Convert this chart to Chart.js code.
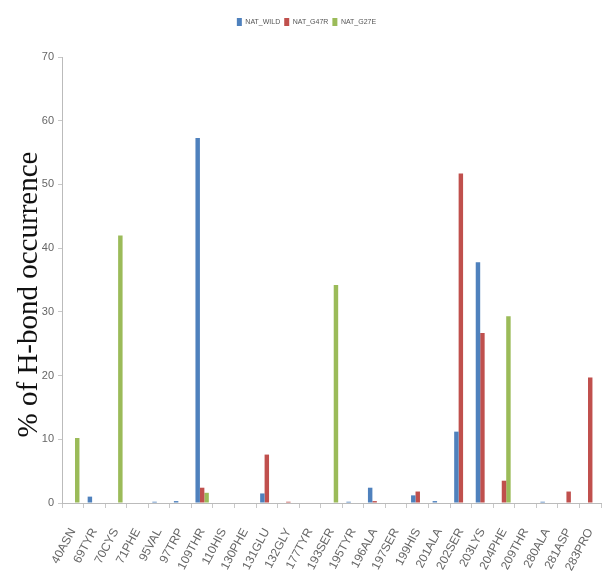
<!DOCTYPE html>
<html><head><meta charset="utf-8">
<script src="https://cdn.jsdelivr.net/npm/chart.js@4.4.0/dist/chart.umd.min.js"></script>
<style>html,body{margin:0;padding:0;background:#fff}#wrap{width:605px;height:577px}</style>
</head><body><div id="wrap"><canvas id="c" width="605" height="577"></canvas></div>
<script>
const categories = ["40ASN","69TYR","70CYS","71PHE","95VAL","97TRP","109THR","110HIS","130PHE","131GLU","132GLY","177TYR","193SER","195TYR","196ALA","197SER","199HIS","201ALA","202SER","203LYS","204PHE","209THR","280ALA","281ASP","283PRO"];
const natWild = [0,1.0,0,0,0.2,0.3,57.3,0,0,1.5,0,0,0,0.2,2.4,0,1.2,0.3,11.2,37.8,0,0,0.2,0,0];
const natG47R = [0,0,0,0,0,0,2.4,0,0,7.6,0.2,0,0,0,0.3,0,1.8,0,51.7,26.7,3.5,0,0,1.8,19.7];
const natG27E = [10.2,0,42.0,0,0,0,1.6,0,0,0,0,0,34.2,0,0,0,0,0,0,0,29.3,0,0,0,0];
const seriesNames = ["NAT_WILD","NAT_G47R","NAT_G27E"];
const yTicks = [0,10,20,30,40,50,60,70];

const legendGap = {
  id:'legendGap',
  beforeInit(chart){
    const lg = chart.legend;
    const orig = lg.fit;
    lg.fit = function(){ orig.call(this); this.height += 21; };
  }
};
const tickFont = {family:"'Liberation Sans Narrow','Liberation Sans',sans-serif", size:12};
new Chart(document.getElementById('c'), {
  type:'bar',
  data:{labels:categories, datasets:[
    {label:seriesNames[0], data:natWild, backgroundColor:'#4F81BD'},
    {label:seriesNames[1], data:natG47R, backgroundColor:'#C0504D'},
    {label:seriesNames[2], data:natG27E, backgroundColor:'#9BBB59'}
  ]},
  plugins:[legendGap],
  options:{
    responsive:false, animation:false,
    layout:{padding:{left:12,right:4,top:14,bottom:0}},
    categoryPercentage:0.62, barPercentage:1.0,
    plugins:{
      legend:{position:'top', labels:{boxWidth:5, boxHeight:8, padding:4, color:'#555', font:{family:"'Liberation Sans Narrow','Liberation Sans',sans-serif", size:7}}},
      tooltip:{enabled:false}
    },
    scales:{
      x:{
        grid:{display:true, drawOnChartArea:false, color:'#c8c8c8', tickLength:5},
        border:{color:'#bbbbbb'},
        ticks:{color:'#666', font:tickFont, maxRotation:62, minRotation:62, autoSkip:false, padding:18},
        afterFit:(s)=>{s.height=74; s.paddingRight=0; s.paddingLeft=0;}
      },
      y:{
        min:0, max:70,
        grid:{display:true, drawOnChartArea:false, color:'#c8c8c8', tickLength:4},
        border:{color:'#bbbbbb'},
        afterBuildTicks:(s)=>{s.ticks=yTicks.map(v=>({value:v}));},
        ticks:{color:'#666', font:{family:"'Liberation Sans Narrow','Liberation Sans',sans-serif", size:11}, padding:4},
        title:{display:true, text:'% of H-bond occurrence\u2003', color:'#111', font:{family:"'Liberation Serif',serif", size:29}, padding:{top:0,bottom:2}},
        afterFit:(s)=>{s.width=50;}
      }
    }
  }
});
</script></body></html>
